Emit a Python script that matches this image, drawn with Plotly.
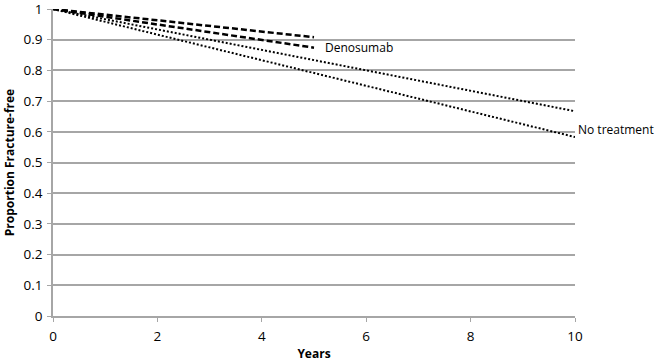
import plotly.graph_objects as go

# Data
deno_years = [0, 2.5, 5]
deno_a = [1.0, 0.953, 0.908]
deno_b = [1.0, 0.937, 0.874]

notx_years = [0, 5, 10]
notx_a = [1.0, 0.834, 0.667]
notx_b = [1.0, 0.792, 0.583]

x_ticks = [0, 2, 4, 6, 8, 10]
y_ticks = [0, 0.1, 0.2, 0.3, 0.4, 0.5, 0.6, 0.7, 0.8, 0.9, 1]
y_labels = ["0", "0.1", "0.2", "0.3", "0.4", "0.5", "0.6", "0.7", "0.8", "0.9", "1"]

FONT = "Open Sans"

fig = go.Figure()
fig.add_trace(go.Scatter(x=deno_years, y=deno_a, mode="lines",
                         line=dict(color="black", width=2.5, dash="6px,3px")))
fig.add_trace(go.Scatter(x=deno_years, y=deno_b, mode="lines",
                         line=dict(color="black", width=2.5, dash="6px,3px")))
fig.add_trace(go.Scatter(x=notx_years, y=notx_a, mode="lines",
                         line=dict(color="black", width=2, dash="2px,2px")))
fig.add_trace(go.Scatter(x=notx_years, y=notx_b, mode="lines",
                         line=dict(color="black", width=2, dash="2px,2px")))

fig.add_annotation(x=5.17, y=0.873, text="Denosumab", showarrow=False,
                   xanchor="left", yanchor="middle", font=dict(size=12, color="black", family=FONT))
fig.add_annotation(x=1.002, xref="paper", y=0.609, text="No treatment", showarrow=False,
                   xanchor="left", yanchor="middle", font=dict(size=12, color="black", family=FONT))

fig.update_layout(
    width=664, height=362,
    margin=dict(l=53, r=89, t=9, b=46, autoexpand=False),
    plot_bgcolor="white", paper_bgcolor="white",
    showlegend=False,
    font=dict(family=FONT, size=13, color="black"),
)
fig.update_xaxes(range=[0, 10], tickvals=x_ticks, showgrid=False, zeroline=False,
                 showline=True, linecolor="#a6a6a6", linewidth=1.5,
                 ticks="outside", ticklen=4, tickcolor="#a6a6a6",
                 tickfont=dict(size=13.5, family=FONT), automargin=False,
                 ticklabeloverflow="allow", ticklabelstandoff=3,
                 title=dict(text="<b>Years</b>", font=dict(size=12, family=FONT), standoff=6))
fig.update_yaxes(range=[0, 1], tickvals=y_ticks, ticktext=y_labels,
                 showgrid=True, gridcolor="#a6a6a6", gridwidth=1.5, zeroline=False,
                 showline=True, linecolor="#a6a6a6", linewidth=1.5,
                 ticks="outside", ticklen=4, tickcolor="#a6a6a6",
                 tickfont=dict(size=13.5, family=FONT), automargin=False,
                 ticklabeloverflow="allow", ticklabelstandoff=2,
                 title=dict(text="<b>Proportion Fracture-free</b>", font=dict(size=12, family=FONT), standoff=6))

fig.write_html("out.html", config={"displayModeBar": False},
               post_script="document.body.style.margin='0';")
